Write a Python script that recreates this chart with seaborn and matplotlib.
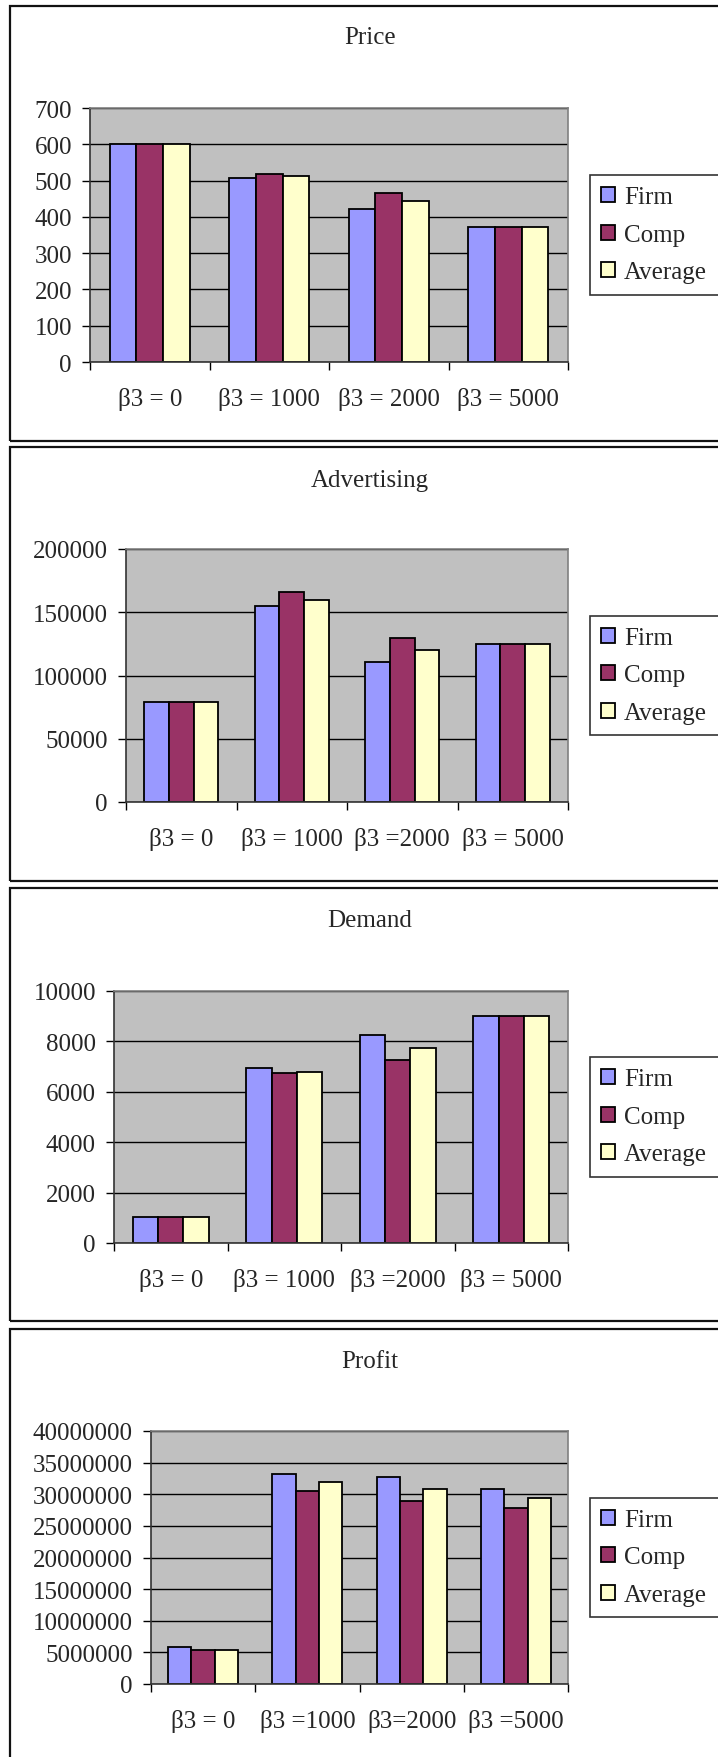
import matplotlib
matplotlib.use("Agg")
import matplotlib.pyplot as plt
import seaborn as sns
import pandas as pd
from matplotlib.patches import Rectangle, Patch
from matplotlib.ticker import FixedLocator, FuncFormatter

sns.set_theme(style="white")
plt.rcParams['font.family'] = ['Liberation Serif', 'DejaVu Serif']

W, H = 718, 1758
DPI = 100

series = ["Firm", "Comp", "Average"]
colors = ["#9999FF", "#993366", "#FFFFCC"]

# ---- Price ----
price_labels = ["β3 = 0", "β3 = 1000", "β3 = 2000", "β3 = 5000"]
price_firm = [600, 506, 421, 373]
price_comp = [600, 518, 465, 373]
price_avg = [600, 512, 443, 373]
price_ticks = [0, 100, 200, 300, 400, 500, 600, 700]

# ---- Advertising ----
adv_labels = ["β3 = 0", "β3 = 1000", "β3 =2000", "β3 = 5000"]
adv_firm = [79000, 155000, 111000, 125000]
adv_comp = [79000, 166000, 129500, 125000]
adv_avg = [79000, 160000, 120000, 125000]
adv_ticks = [0, 50000, 100000, 150000, 200000]

# ---- Demand ----
demand_labels = ["β3 = 0", "β3 = 1000", "β3 =2000", "β3 = 5000"]
demand_firm = [1050, 6950, 8250, 9000]
demand_comp = [1050, 6730, 7250, 9000]
demand_avg = [1050, 6800, 7730, 9000]
demand_ticks = [0, 2000, 4000, 6000, 8000, 10000]

# ---- Profit ----
profit_labels = ["β3 = 0", "β3 =1000", "β3=2000", "β3 =5000"]
profit_firm = [5800000, 33250000, 32700000, 30800000]
profit_comp = [5450000, 30500000, 29000000, 27800000]
profit_avg = [5450000, 32000000, 30800000, 29350000]
profit_ticks = [0, 5000000, 10000000, 15000000, 20000000,
                25000000, 30000000, 35000000, 40000000]

panels = [
    # title, labels, firm, comp, avg, ticks, layout (px): box top, box bottom, L, R, T, B, title y
    ("Price", price_labels, price_firm, price_comp, price_avg, price_ticks,
     (7, 442, 90, 568, 109, 363, 38)),
    ("Advertising", adv_labels, adv_firm, adv_comp, adv_avg, adv_ticks,
     (448, 882, 126, 568, 550, 803, 481)),
    ("Demand", demand_labels, demand_firm, demand_comp, demand_avg, demand_ticks,
     (889, 1322, 114, 568, 992, 1244, 921)),
    ("Profit", profit_labels, profit_firm, profit_comp, profit_avg, profit_ticks,
     (1330, 1790, 151, 568, 1432, 1685, 1362)),
]

FS = 18
fig = plt.figure(figsize=(W / DPI, H / DPI), dpi=DPI)
fig.patch.set_facecolor("white")

for title, labels, firm, comp, avg, ticks, lay in panels:
    btop, bbot, L, R, T, B, ty = lay

    # chart frame
    fig.add_artist(Rectangle((10 / W, 1 - bbot / H), (780 - 10) / W, (bbot - btop) / H,
                             transform=fig.transFigure, fill=False,
                             edgecolor="#111111", linewidth=1.6))

    ax = fig.add_axes([L / W, 1 - B / H, (R - L) / W, (B - T) / H])
    df = pd.DataFrame({
        "cat": labels * 3,
        "series": [s for s in series for _ in labels],
        "value": firm + comp + avg,
    })
    sns.barplot(data=df, x="cat", y="value", hue="series", hue_order=series,
                order=labels, palette=colors, saturation=1, width=0.67,
                edgecolor="black", linewidth=1.3, ax=ax, legend=False)

    ax.set_facecolor("#C0C0C0")
    ax.set_xlim(-0.5, len(labels) - 0.5)
    ax.set_ylim(ticks[0], ticks[-1])
    ax.yaxis.set_major_locator(FixedLocator(ticks))
    ax.yaxis.set_major_formatter(FuncFormatter(lambda v, p: f"{int(round(v))}"))
    ax.grid(axis="y", color="black", linewidth=1.0)
    ax.grid(axis="x", visible=False)
    ax.set_axisbelow(True)

    # category boundaries as tick marks, labels centred between them
    ax.set_xticks([i - 0.5 for i in range(len(labels) + 1)])
    ax.set_xticklabels([""] * (len(labels) + 1))
    ax.set_xticks(list(range(len(labels))), minor=True)
    ax.set_xticklabels(labels, minor=True, fontsize=FS)
    ax.tick_params(axis="x", which="major", bottom=True, direction="out",
                   length=6, width=1, color="black")
    ax.tick_params(axis="x", which="minor", bottom=True, length=0, pad=18)
    ax.tick_params(axis="y", left=True, direction="out", length=6, width=1,
                   color="black", pad=7, labelsize=FS)
    ax.set_xlabel("")
    ax.set_ylabel("")

    for side in ("top", "right"):
        ax.spines[side].set_color("#808080")
        ax.spines[side].set_linewidth(1.2)
    for side in ("left", "bottom"):
        ax.spines[side].set_color("#333333")
        ax.spines[side].set_linewidth(1.2)

    fig.text(370 / W, 1 - ty / H, title, ha="center", va="center", fontsize=FS)

    # legend box runs on past the right edge of the chart frame
    handles = [Patch(facecolor=c, edgecolor="black", linewidth=1.3) for c in colors]
    leg = ax.legend(handles, series, loc="center left", mode="expand",
                    bbox_to_anchor=(590 / W, 1 - B / H, 200 / W, (B - T) / H),
                    bbox_transform=fig.transFigure, fontsize=FS, frameon=True,
                    fancybox=False, handlelength=0.55, handleheight=0.55,
                    handletextpad=0.35, labelspacing=0.62, borderpad=0.45,
                    borderaxespad=0)
    leg.get_frame().set_edgecolor("black")
    leg.get_frame().set_linewidth(1.2)
    leg.get_frame().set_facecolor("white")

fig.savefig("out.png", dpi=DPI)
